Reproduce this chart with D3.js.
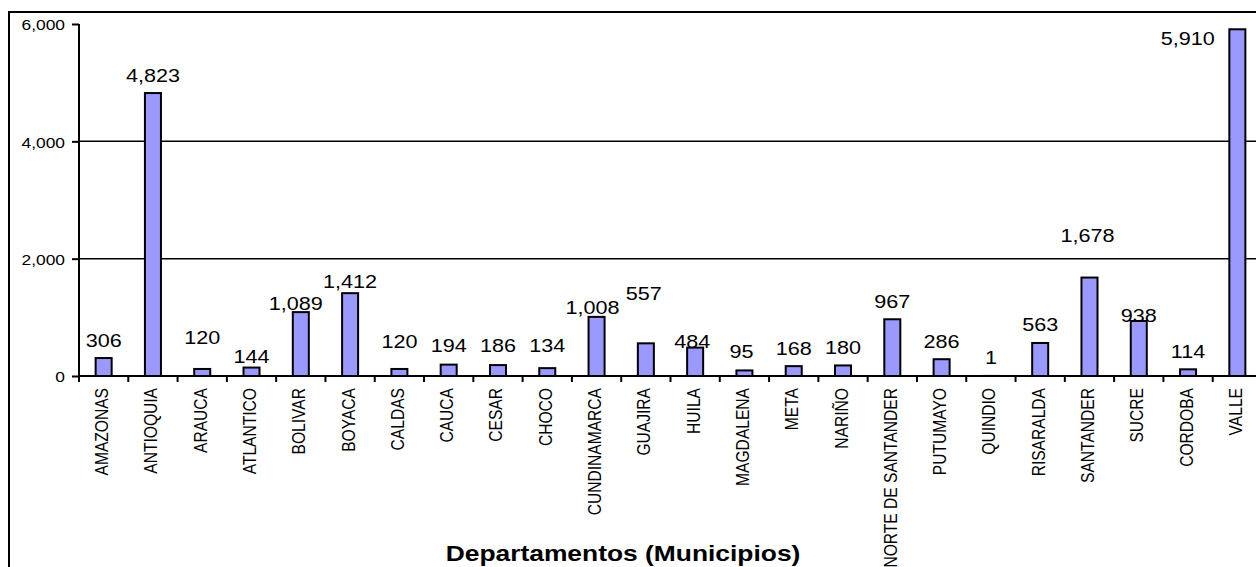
<!DOCTYPE html>
<html>
<head>
<meta charset="utf-8">
<script src="https://cdn.jsdelivr.net/npm/d3@7"></script>
<style>
  body { margin: 0; background: #fff; }
  svg { display: block; font-family: "Liberation Sans", Arial, sans-serif; }
</style>
</head>
<body>
<div class="chart-area"></div>
<script>
// data
const departamentos = ["AMAZONAS", "ANTIOQUIA", "ARAUCA", "ATLANTICO", "BOLIVAR", "BOYACA",
    "CALDAS", "CAUCA", "CESAR", "CHOCO", "CUNDINAMARCA", "GUAJIRA", "HUILA", "MAGDALENA",
    "META", "NARIÑO", "NORTE DE SANTANDER", "PUTUMAYO", "QUINDIO", "RISARALDA", "SANTANDER",
    "SUCRE", "CORDOBA", "VALLE"];
const municipios = [306, 4823, 120, 144, 1089, 1412, 120, 194, 186, 134, 1008, 557, 484, 95,
    168, 180, 967, 286, 1, 563, 1678, 938, 114, 5910];
const yTicks = [0, 2000, 4000, 6000];
const gridValues = [2000, 4000];
const axisTitle = "Departamentos (Municipios)";

// hand placed labels in the original, nudges in px [dx, dy]
const labelNudge = [[0, 0], [0, 0], [0, -13.5], [0, 7], [-5, 9.5], [0, 6.5], [0, -9.5],
    [0, -1], [0, -1.5], [0, -4.5], [-4, 8.5], [-2, -31.5], [-3, 11.5], [-3, -1], [0, 0],
    [0, 0], [0, 0], [0, 0], [0, 0], [0, 0], [-2, -24], [0, 12.5], [0, 0], [-49.5, 27]];

const width = 1256, height = 567;
const margin = { top: 24, left: 79, bottom: 376 };
const sx = 1.2; // the original chart is stretched horizontally

const svg = d3.select('.chart-area').append('svg').attr('width', width).attr('height', height);

var x = d3.scaleBand()
    .domain(departamentos)
    .range([margin.left, 1262])
    .paddingInner(0.675)
    .paddingOuter(0.3375);

var y = d3.scaleLinear()
    .domain([0, 6000])
    .range([margin.bottom, margin.top]);

// outer frame
svg.append("rect")
    .attr("x", 9).attr("y", 12)
    .attr("width", 1300).attr("height", 600)
    .attr("fill", "none").attr("stroke", "black").attr("stroke-width", 2);

// gridlines
svg.append("g")
    .selectAll("line")
    .data(gridValues)
    .join("line")
    .attr("x1", margin.left).attr("x2", width)
    .attr("y1", d => y(d)).attr("y2", d => y(d))
    .attr("stroke", "black").attr("stroke-width", 1.5);

// y axis
const yAxis = svg.append("g")
    .attr("transform", `translate(${margin.left},0)`)
    .call(d3.axisLeft(y).tickValues(yTicks).tickSize(7).tickPadding(7).tickFormat(d3.format(",")));
yAxis.select(".domain").attr("stroke-width", 2).attr("d", `M0,${margin.top}V${margin.bottom}`);
yAxis.selectAll(".tick line").attr("stroke-width", 2);
yAxis.selectAll(".tick text")
    .attr("font-size", 14.5).attr("fill", "black")
    .attr("font-family", "Liberation Sans, Arial, sans-serif")
    .attr("x", null).attr("dy", null)
    .attr("dominant-baseline", "central")
    .attr("transform", `translate(-14,1) scale(${sx},1)`);

// bars
svg.append("g")
    .selectAll("rect")
    .data(municipios)
    .join("rect")
    .attr("x", (d, i) => x(departamentos[i]))
    .attr("y", d => y(d))
    .attr("width", x.bandwidth())
    .attr("height", d => y(0) - y(d))
    .attr("fill", "#9999ff")
    .attr("stroke", "black")
    .attr("stroke-width", 2);

// x axis line and ticks between categories
const step = x.step();
const x0 = x.range()[0];
svg.append("line")
    .attr("x1", margin.left).attr("x2", width)
    .attr("y1", y(0)).attr("y2", y(0))
    .attr("stroke", "black").attr("stroke-width", 2);
svg.append("g")
    .selectAll("line")
    .data(d3.range(departamentos.length + 1))
    .join("line")
    .attr("x1", i => x0 + i * step).attr("x2", i => x0 + i * step)
    .attr("y1", y(0)).attr("y2", y(0) + 6)
    .attr("stroke", "black").attr("stroke-width", 2);

// category labels
svg.append("g")
    .selectAll("text")
    .data(departamentos)
    .join("text")
    .attr("transform", d => `translate(${x(d) + x.bandwidth() / 2 + 4.5},388) scale(${sx},1) rotate(-90)`)
    .attr("text-anchor", "end")
    .attr("font-size", 15.6)
    .text(d => d);

// value labels
svg.append("g")
    .selectAll("text")
    .data(municipios)
    .join("text")
    .attr("transform", (d, i) => {
        const cx = x(departamentos[i]) + x.bandwidth() / 2 + labelNudge[i][0];
        const cy = y(d) - 11.5 + labelNudge[i][1];
        return `translate(${cx},${cy}) scale(${sx},1)`;
    })
    .attr("text-anchor", "middle")
    .attr("font-size", 18)
    .attr("fill", "black")
    .text(d => d3.format(",")(d));

// axis title
svg.append("text")
    .attr("transform", `translate(623,561) scale(${sx},1)`)
    .attr("text-anchor", "middle")
    .attr("font-size", 22)
    .attr("font-weight", "bold")
    .text(axisTitle);
</script>
</body>
</html>
